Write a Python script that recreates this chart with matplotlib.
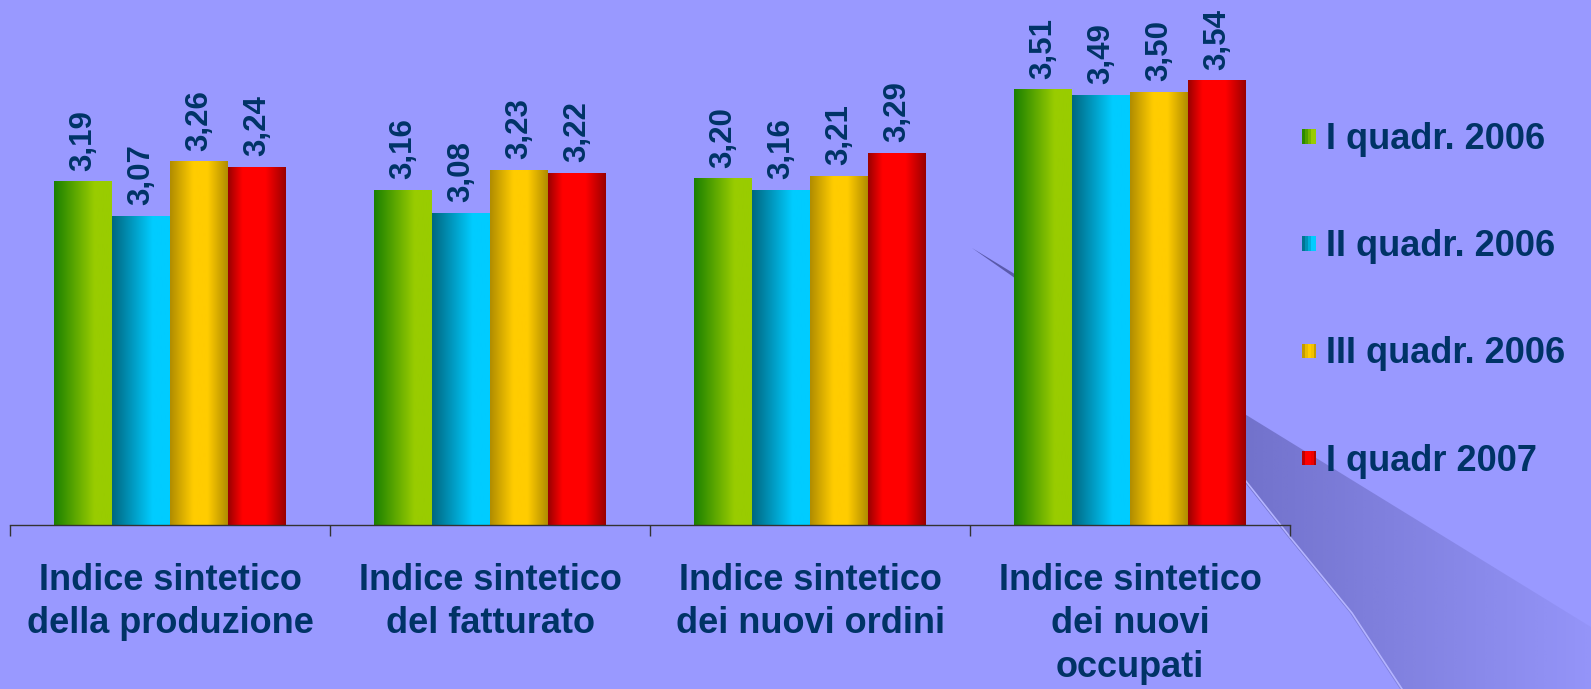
import numpy as np
import matplotlib
matplotlib.use("Agg")
import matplotlib.pyplot as plt
from matplotlib.colors import LinearSegmentedColormap
from matplotlib.patches import Rectangle, Polygon
from matplotlib.legend_handler import HandlerBase

# ---------------------------------------------------------------
# Dati
# ---------------------------------------------------------------
categorie = ["Indice sintetico\ndella produzione",
             "Indice sintetico\ndel fatturato",
             "Indice sintetico\ndei nuovi ordini",
             "Indice sintetico\ndei nuovi\noccupati"]
serie = ["I quadr. 2006", "II quadr. 2006", "III quadr. 2006", "I quadr 2007"]

q1_2006 = [3.19, 3.16, 3.20, 3.51]
q2_2006 = [3.07, 3.08, 3.16, 3.49]
q3_2006 = [3.26, 3.23, 3.21, 3.50]
q1_2007 = [3.24, 3.22, 3.29, 3.54]
valori = [q1_2006, q2_2006, q3_2006, q1_2007]

# gradienti delle barre (sinistra -> destra)
gradienti = [
    [(0.0, "#1a8000"), (0.7, "#99cc00"), (1.0, "#99cc00")],
    [(0.0, "#006680"), (0.7, "#00ccff"), (1.0, "#00ccff")],
    [(0.0, "#b08c00"), (0.4, "#ffcc00"), (0.65, "#ffcc00"), (1.0, "#b08c00")],
    [(0.0, "#990000"), (0.25, "#ff0000"), (0.65, "#ff0000"), (1.0, "#990000")],
]
cmaps = [LinearSegmentedColormap.from_list("g%d" % i, g) for i, g in enumerate(gradienti)]

SFONDO = "#9999ff"
TESTO = "#003366"
plt.rcParams["font.family"] = ["Liberation Sans", "DejaVu Sans"]
plt.rcParams["font.weight"] = "bold"

W, H = 1591, 689
fig = plt.figure(figsize=(W / 100, H / 100), dpi=100, facecolor=SFONDO)

# ---------------------------------------------------------------
# Sfondo decorativo (onda in basso a destra)
# ---------------------------------------------------------------
bg = fig.add_axes([0, 0, 1, 1], zorder=-1)
onda = [(972, 248), (1243, 413), (1591, 627), (1591, 689), (1400, 689),
        (1350, 613), (1288, 537), (1243, 480), (1150, 380), (1012, 276)]
poly = Polygon(onda, closed=True, facecolor="none", edgecolor="none")
bg.add_patch(poly)
xs = np.linspace(960, W, 300)
alpha = np.interp(xs, [960, 1240, 1591], [0.85, 0.5, 0.06])
img = np.zeros((2, len(xs), 4))
img[..., 0] = 74 / 255
img[..., 1] = 74 / 255
img[..., 2] = 150 / 255
img[..., 3] = alpha[None, :]
im = bg.imshow(img, extent=[960, W, H, 240], aspect="auto", interpolation="bilinear")
im.set_clip_path(poly)
bordo = np.array([(1243, 480), (1288, 537), (1350, 613), (1400, 689)])
bg.plot(bordo[:, 0] + 2, bordo[:, 1], color="#b4b4ff", lw=1.2)
bg.set_xlim(0, W)
bg.set_ylim(H, 0)
bg.axis("off")

# ---------------------------------------------------------------
# Grafico a barre
# ---------------------------------------------------------------
ax = fig.add_axes([10 / W, 1 - 525 / H, 1280 / W, 519 / H])
ax.set_facecolor("none")

x = np.arange(len(categorie))
larg = 0.181
offs = (np.arange(len(serie)) - 1.5) * larg

for k in range(len(serie)):
    barre = ax.bar(x + offs[k], valori[k], larg, color="none", edgecolor="none", zorder=2)
    grad = np.linspace(0, 1, 256)[None, :]
    for b, v in zip(barre, valori[k]):
        ax.imshow(grad, cmap=cmaps[k], extent=[b.get_x(), b.get_x() + b.get_width(), 0, b.get_height()],
                  aspect="auto", zorder=2, interpolation="bilinear")
        ax.annotate(("%.2f" % v).replace(".", ","), (b.get_x() + b.get_width() / 2, b.get_height()),
                    xytext=(0, 8), textcoords="offset points", rotation=90,
                    ha="center", va="bottom", fontsize=22.5, color=TESTO, fontweight="bold")

ax.set_xlim(-0.5, len(categorie) - 0.5)
ax.set_ylim(2.0, 3.8)

for s in ["top", "right", "left"]:
    ax.spines[s].set_visible(False)
ax.spines["bottom"].set_color("#333333")
ax.spines["bottom"].set_linewidth(1.0)
ax.set_yticks([])

ax.set_xticks(x)
ax.set_xticklabels(categorie, fontsize=26, color=TESTO, fontweight="bold", linespacing=1.33)
ax.set_xticks(np.arange(len(categorie) + 1) - 0.5, minor=True)
ax.tick_params(axis="x", which="major", length=0, pad=27)
ax.tick_params(axis="x", which="minor", length=8, width=1, color="#333333", direction="out")


# ---------------------------------------------------------------
# Legenda con quadratini sfumati
# ---------------------------------------------------------------
class HandlerSfumato(HandlerBase):
    def __init__(self, cmap):
        super().__init__()
        self.cmap = cmap

    def create_artists(self, legend, orig_handle, xdescent, ydescent, width, height, fontsize, trans):
        n = 5
        lato = 0.4 * fontsize
        y0 = -ydescent + (height - lato) / 2
        out = []
        for i in range(n):
            out.append(Rectangle((-xdescent + i * lato / n, y0), lato / n, lato,
                                 facecolor=self.cmap((i + 0.5) / n), edgecolor="none", transform=trans))
        return out


handles = [Rectangle((0, 0), 1, 1) for _ in serie]
leg = fig.legend(handles, serie, handler_map={h: HandlerSfumato(c) for h, c in zip(handles, cmaps)},
                 loc="upper left", bbox_to_anchor=(1302 / W, 1 - 122 / H), frameon=False,
                 fontsize=26, labelspacing=2.0, handlelength=0.42, handleheight=0.7,
                 handletextpad=0.25, borderaxespad=0, borderpad=0)
for t in leg.get_texts():
    t.set_color(TESTO)
    t.set_fontweight("bold")

fig.savefig("out.png", dpi=100, facecolor=SFONDO)
